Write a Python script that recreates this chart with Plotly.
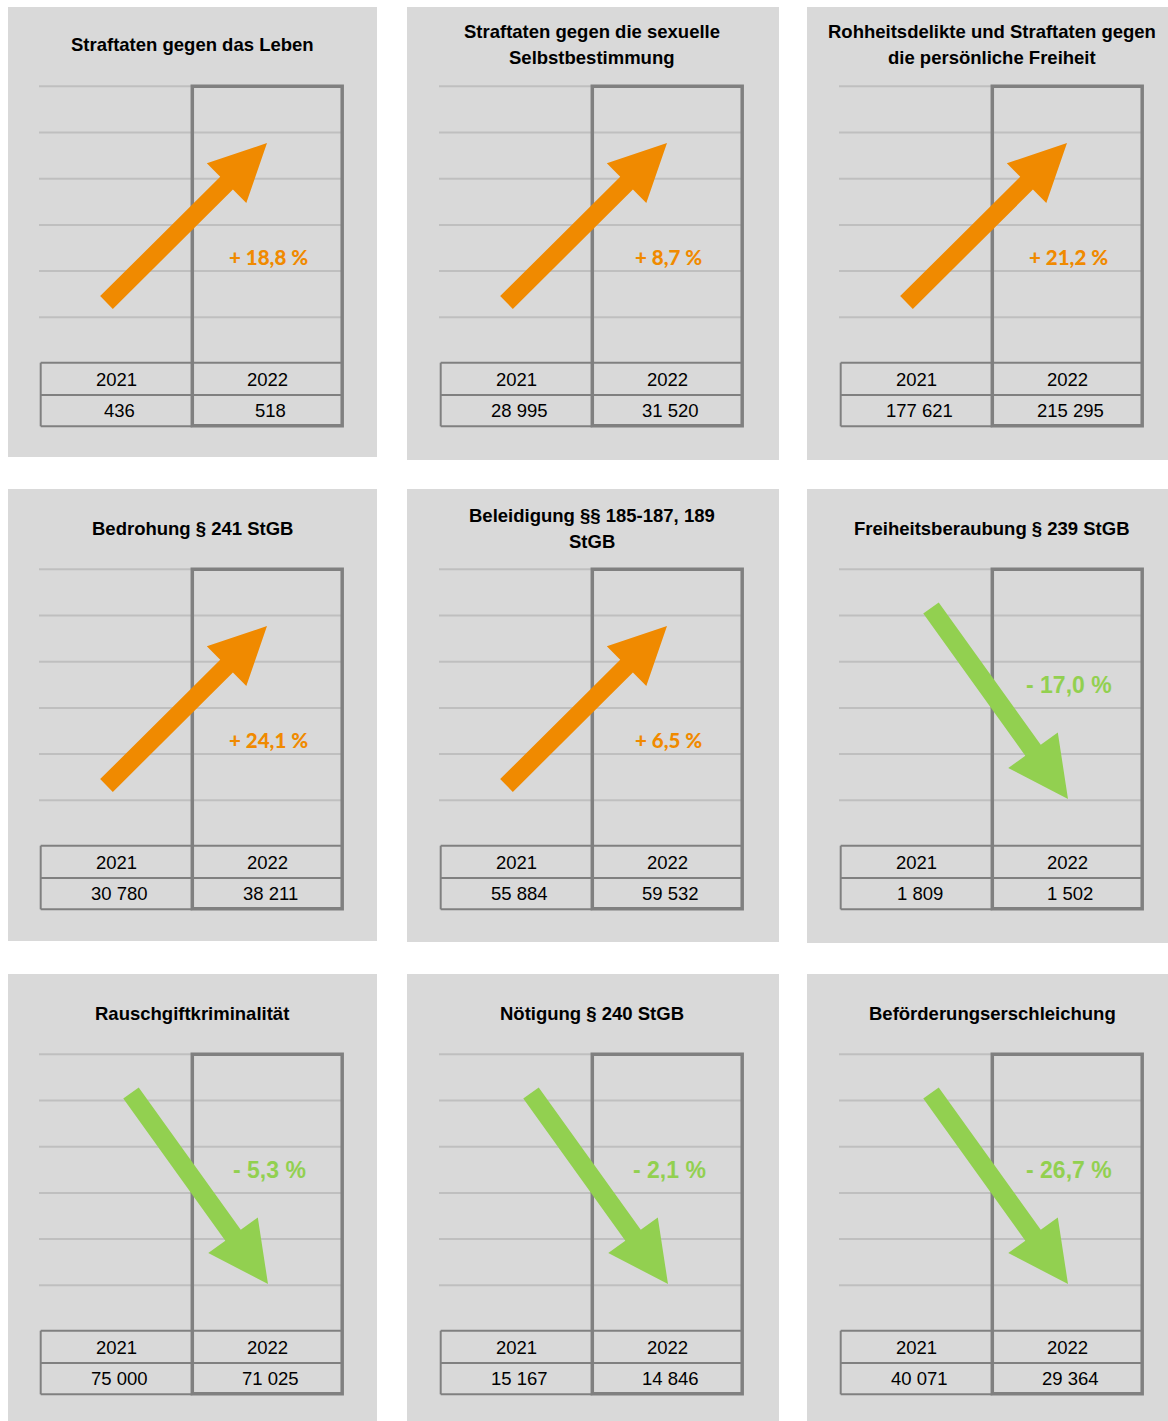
import math
import plotly.graph_objects as go

# ---- data -----------------------------------------------------------------
titles = [
    "Straftaten gegen das Leben",
    "Straftaten gegen die sexuelle\nSelbstbestimmung",
    "Rohheitsdelikte und Straftaten gegen\ndie persönliche Freiheit",
    "Bedrohung § 241 StGB",
    "Beleidigung §§ 185-187, 189\nStGB",
    "Freiheitsberaubung § 239 StGB",
    "Rauschgiftkriminalität",
    "Nötigung § 240 StGB",
    "Beförderungserschleichung",
]
years = ["2021", "2022"]
cases_2021 = [436, 28995, 177621, 30780, 55884, 1809, 75000, 15167, 40071]
cases_2022 = [518, 31520, 215295, 38211, 59532, 1502, 71025, 14846, 29364]

# ---- styling / layout -----------------------------------------------------
FIG_W, FIG_H = 1168, 1421
PANEL_BG = "#D9D9D9"
GRID_COLOR = "#BFBFBF"
BORDER_COLOR = "#808080"
UP_COLOR = "#F08A00"
DOWN_COLOR = "#92D050"
TEXT_COLOR = "#000000"

col_origin = [0, 400, 800]
row_origin = [0, 483, 968]
col_extent = [(8, 377), (407, 779), (807, 1168)]
row_extent = [
    [(7, 457), (7, 460), (7, 460)],
    [(489, 941), (489, 942), (489, 943)],
    [(974, 1421), (974, 1421), (974, 1421)],
]

# local panel geometry (pixels relative to the panel origin)
GRID_X0, GRID_X1 = 39, 342
GRID_TOP, GRID_STEP, GRID_N = 86.3, 46.2, 6
TAB_X0, TAB_XM, TAB_X1 = 40.7, 192.3, 342.2
TAB_Y0, TAB_YM, TAB_Y1 = 362.7, 395.0, 426.3
BOX_BOTTOM = 425.7
TITLE_X = 192

UP_ARROW = dict(start=(106.5, 302.5), end=(267, 143), shaft=18, head_w=56, head_len=57)
DOWN_ARROW = dict(start=(131, 125), end=(268, 316), shaft=19, head_w=61, head_len=60)
UP_LABEL_POS = (268, 257)
DOWN_LABEL_POS = (269, 202)


def fmt_int(v):
    return f"{v:,}".replace(",", " ")


def fmt_change(a, b):
    p = (b / a - 1) * 100
    sign = "+" if p >= 0 else "-"
    return f"{sign} {abs(p):.1f} %".replace(".", ",")


def arrow_polygon(start, end, shaft, head_w, head_len):
    x0, y0 = start
    x1, y1 = end
    dx, dy = x1 - x0, y1 - y0
    L = math.hypot(dx, dy)
    ux, uy = dx / L, dy / L
    nx, ny = -uy, ux
    bx, by = x1 - ux * head_len, y1 - uy * head_len
    s, h = shaft / 2, head_w / 2
    pts = [
        (x0 + nx * s, y0 + ny * s),
        (bx + nx * s, by + ny * s),
        (bx + nx * h, by + ny * h),
        (x1, y1),
        (bx - nx * h, by - ny * h),
        (bx - nx * s, by - ny * s),
        (x0 - nx * s, y0 - ny * s),
        (x0 + nx * s, y0 + ny * s),
    ]
    return [p[0] for p in pts], [p[1] for p in pts]


fig = go.Figure()
shapes = []
annotations = []
layout_axes = {}

for i, title in enumerate(titles):
    r, c = divmod(i, 3)
    X0, Y0 = col_origin[c], row_origin[r]
    px0, px1 = col_extent[c]
    py0, py1 = row_extent[r][c]
    sfx = "" if i == 0 else str(i + 1)
    xa, ya = "x" + sfx, "y" + sfx

    layout_axes["xaxis" + sfx] = dict(
        domain=[px0 / FIG_W, px1 / FIG_W], range=[px0 - X0, px1 - X0],
        visible=False, fixedrange=True, anchor=ya,
    )
    layout_axes["yaxis" + sfx] = dict(
        domain=[1 - py1 / FIG_H, 1 - py0 / FIG_H], range=[py1 - Y0, py0 - Y0],
        visible=False, fixedrange=True, anchor=xa,
    )

    # horizontal gridlines
    for k in range(GRID_N):
        gy = GRID_TOP + k * GRID_STEP
        shapes.append(dict(type="line", xref=xa, yref=ya, x0=GRID_X0, x1=GRID_X1,
                           y0=gy, y1=gy, line=dict(color=GRID_COLOR, width=2), layer="below"))

    # table lines for the 2021 column
    for ty in (TAB_Y0, TAB_YM):
        shapes.append(dict(type="line", xref=xa, yref=ya, x0=TAB_X0, x1=TAB_X1,
                           y0=ty, y1=ty, line=dict(color=BORDER_COLOR, width=2), layer="below"))
    shapes.append(dict(type="line", xref=xa, yref=ya, x0=TAB_X0, x1=TAB_XM,
                       y0=TAB_Y1, y1=TAB_Y1, line=dict(color=BORDER_COLOR, width=2), layer="below"))
    shapes.append(dict(type="line", xref=xa, yref=ya, x0=TAB_X0, x1=TAB_X0,
                       y0=TAB_Y0, y1=TAB_Y1, line=dict(color=BORDER_COLOR, width=2), layer="below"))

    # framed 2022 column
    shapes.append(dict(type="rect", xref=xa, yref=ya, x0=TAB_XM, x1=TAB_X1,
                       y0=GRID_TOP, y1=BOX_BOTTOM,
                       line=dict(color=BORDER_COLOR, width=3.5), layer="below"))

    # trend arrow
    a, b = cases_2021[i], cases_2022[i]
    rising = b >= a
    spec = UP_ARROW if rising else DOWN_ARROW
    color = UP_COLOR if rising else DOWN_COLOR
    ax_, ay_ = arrow_polygon(**spec)
    fig.add_trace(go.Scatter(x=ax_, y=ay_, mode="lines", fill="toself",
                             fillcolor=color, line=dict(width=0, color=color),
                             hoverinfo="skip", xaxis=xa, yaxis=ya))

    # change label
    lx, ly = UP_LABEL_POS if rising else DOWN_LABEL_POS
    if rising:
        lfont = dict(family="Lato", size=20.5, color=color, weight=900)
    else:
        lfont = dict(family="Liberation Sans, Arial", size=23, color=color, weight=700)
    annotations.append(dict(xref=xa, yref=ya, x=lx, y=ly, text=fmt_change(a, b),
                            showarrow=False, font=lfont, xanchor="center", yanchor="middle"))

    # title
    lines = title.split("\n")
    ys = [45] if len(lines) == 1 else [32, 58]
    for line, ty in zip(lines, ys):
        annotations.append(dict(xref=xa, yref=ya, x=TITLE_X, y=ty, text="<b>" + line + "</b>",
                                showarrow=False, xanchor="center", yanchor="middle",
                                font=dict(family="Liberation Sans, Arial", size=18.5, color=TEXT_COLOR)))

    # table cells
    tfont = dict(family="Liberation Sans, Arial", size=18.5, color=TEXT_COLOR)
    annotations.append(dict(xref=xa, yref=ya, x=(TAB_X0 + TAB_XM) / 2, y=379.3, text=years[0],
                            showarrow=False, font=tfont))
    annotations.append(dict(xref=xa, yref=ya, x=(TAB_XM + TAB_X1) / 2, y=379.3, text=years[1],
                            showarrow=False, font=tfont))
    annotations.append(dict(xref=xa, yref=ya, x=(TAB_X0 + TAB_XM) / 2 + 3, y=410.7, text=fmt_int(a),
                            showarrow=False, font=tfont))
    annotations.append(dict(xref=xa, yref=ya, x=(TAB_XM + TAB_X1) / 2 + 3, y=410.7, text=fmt_int(b),
                            showarrow=False, font=tfont))

fig.update_layout(
    width=FIG_W, height=FIG_H,
    margin=dict(l=0, r=0, t=0, b=0),
    paper_bgcolor="white", plot_bgcolor=PANEL_BG,
    showlegend=False,
    shapes=shapes, annotations=annotations,
    **layout_axes,
)

fig.write_html("out.html")
